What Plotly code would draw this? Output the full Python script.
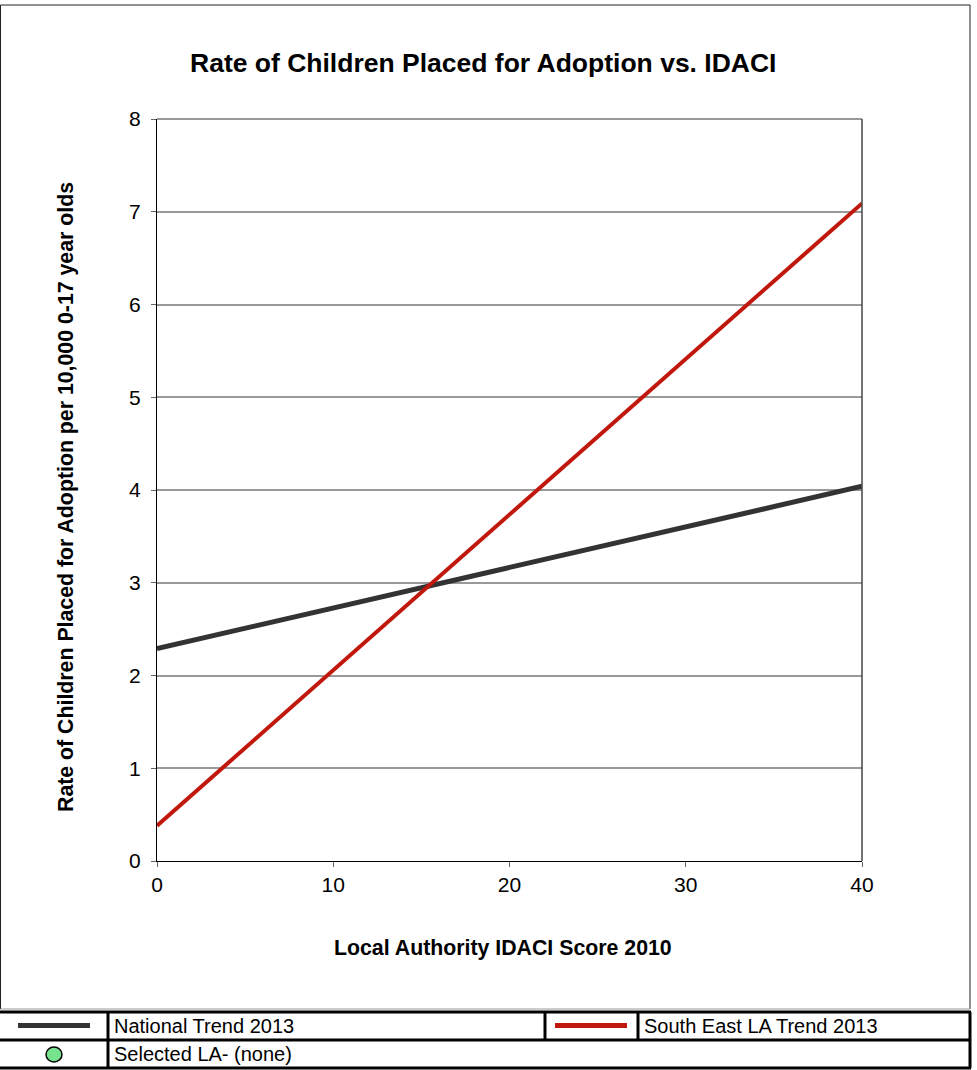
import plotly.graph_objects as go

# ---- data ----
idaci_x = [0, 40]
national_trend = [2.29, 4.04]
south_east_trend = [0.38, 7.09]
y_ticks = [0, 1, 2, 3, 4, 5, 6, 7, 8]
x_ticks = [0, 10, 20, 30, 40]
legend_labels = ["National Trend 2013", "South East LA Trend 2013", "Selected LA- (none)"]

W, H = 977, 1070
L, R, T, B = 157, 862, 119, 861  # plot area in pixels

def px(x):
    return (x - L) / (R - L)

def py(y):
    return (B - y) / (B - T)

FONT = "Liberation Sans, Arial, sans-serif"
NAT_COL = "#333333"
SE_COL = "#C0180C"
GRID = "#999999"

fig = go.Figure()
fig.add_trace(go.Scatter(x=idaci_x, y=national_trend, mode="lines",
                         line=dict(color=NAT_COL, width=5), showlegend=False))
fig.add_trace(go.Scatter(x=idaci_x, y=south_east_trend, mode="lines",
                         line=dict(color=SE_COL, width=4), showlegend=False))

shapes = []
def line(x0, y0, x1, y1, color="black", width=1, layer="above"):
    shapes.append(dict(type="line", xref="paper", yref="paper", layer=layer,
                       x0=px(x0), y0=py(y0), x1=px(x1), y1=py(y1),
                       line=dict(color=color, width=width)))

# outer chart border
line(0.5, 5, 970, 5, "#222222", 1)
line(970, 5, 970, 1009, "#222222", 1)
line(0.5, 5, 0.5, 1009, "#222222", 1)
line(0.5, 1009, 970, 1009, "#999999", 1)
# plot top and right border
line(157, 119, 862, 119, GRID, 2, "below")
line(862, 119, 862, 861, "#444444", 1.5)

# legend table
tw = 3
line(0, 1012, 971, 1012, "black", tw)
line(0, 1040, 971, 1040, "black", tw)
line(0, 1068, 971, 1068, "black", tw)
line(970, 1012, 970, 1068, "black", tw)
line(108, 1012, 108, 1068, "black", tw)
line(545, 1012, 545, 1040, "black", tw)
line(638, 1012, 638, 1040, "black", tw)
# legend symbols
line(18, 1025.5, 90, 1025.5, NAT_COL, 5)
line(555, 1025.5, 627, 1025.5, SE_COL, 5)
shapes.append(dict(type="circle", xref="paper", yref="paper",
                   x0=px(46), x1=px(62), y0=py(1047), y1=py(1062),
                   fillcolor="#77E38C", line=dict(color="black", width=1.5)))

annotations = [
    dict(text="<b>Rate of Children Placed for Adoption vs. IDACI</b>", x=px(483), y=py(63),
         xref="paper", yref="paper", showarrow=False, font=dict(size=26.5, family=FONT, color="black"),
         xanchor="center", yanchor="middle"),
    dict(text="<b>Local Authority IDACI Score 2010</b>", x=px(503), y=py(948),
         xref="paper", yref="paper", showarrow=False, font=dict(size=21.3, family=FONT, color="black"),
         xanchor="center", yanchor="middle"),
    dict(text="<b>Rate of Children Placed for Adoption per 10,000 0-17 year olds</b>", x=px(66), y=py(497),
         xref="paper", yref="paper", showarrow=False, textangle=-90,
         font=dict(size=21.3, family=FONT, color="black"), xanchor="center", yanchor="middle"),
    dict(text=legend_labels[0], x=px(112), y=py(1026), xref="paper", yref="paper", showarrow=False,
         font=dict(size=20, family=FONT, color="black"), xanchor="left", yanchor="middle"),
    dict(text=legend_labels[1], x=px(642), y=py(1026), xref="paper", yref="paper", showarrow=False,
         font=dict(size=20, family=FONT, color="black"), xanchor="left", yanchor="middle"),
    dict(text=legend_labels[2], x=px(112), y=py(1054), xref="paper", yref="paper", showarrow=False,
         font=dict(size=20, family=FONT, color="black"), xanchor="left", yanchor="middle"),
]

fig.update_layout(
    width=W, height=H,
    margin=dict(l=L, r=W - R, t=T, b=H - B, pad=0),
    paper_bgcolor="white", plot_bgcolor="white",
    shapes=shapes, annotations=annotations,
    font=dict(family=FONT, color="black"),
    xaxis=dict(range=[0, 40], tickvals=x_ticks, showgrid=False, zeroline=False,
               showline=True, linecolor="black", linewidth=1,
               ticks="outside", ticklen=5, tickcolor="#666666",
               tickfont=dict(size=21, family=FONT, color="black")),
    yaxis=dict(range=[0, 8], tickvals=y_ticks, showgrid=True, gridcolor=GRID, gridwidth=2,
               zeroline=False, showline=True, linecolor="black", linewidth=1,
               ticks="outside", ticklen=5, tickcolor="#666666", ticklabelstandoff=6,
               tickfont=dict(size=21, family=FONT, color="black")),
)

fig.write_html("out.html", config={"displayModeBar": False},
               post_script="document.body.style.margin='0';")
